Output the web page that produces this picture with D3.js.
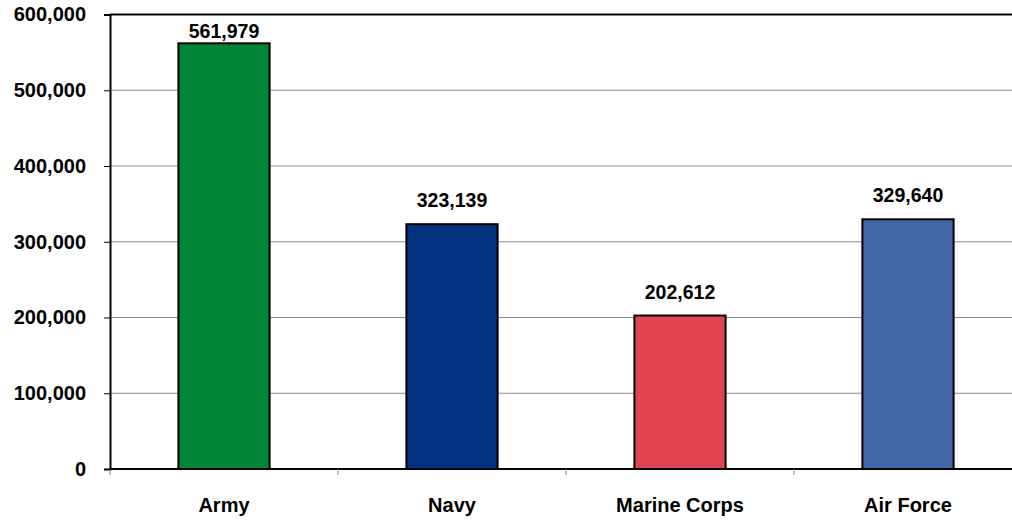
<!DOCTYPE html>
<html><head><meta charset="utf-8">
<script src="https://cdn.jsdelivr.net/npm/d3@7"></script>
<style>body{margin:0;background:#fff;overflow:hidden}svg{display:block}text{font-family:"Liberation Sans",Arial,sans-serif;font-weight:bold}</style>
</head><body>
<svg id="c" width="1012" height="521"></svg>
<script>
const categories = ["Army", "Navy", "Marine Corps", "Air Force"];
const values = [561979, 323139, 202612, 329640];
const colors = ["#038537", "#04317f", "#e04452", "#4168a6"];
const yTicks = [0, 100000, 200000, 300000, 400000, 500000, 600000];

(function () {
const svg = d3.select("#c");
const mLeft = 110, mRight = 1022, mTop = 14.5, mBottom = 469;
const x = d3.scaleBand().domain(categories).range([mLeft, mRight]).paddingInner(0).paddingOuter(0);
const y = d3.scaleLinear().domain([0, 600000]).range([mBottom, mTop]);
const fmt = d3.format(",");

// gridlines
svg.append("g").selectAll("line").data(yTicks.filter(t => t > 0 && t < 600000)).join("line")
  .attr("x1", mLeft).attr("x2", 1012).attr("y1", d => y(d)).attr("y2", d => y(d))
  .attr("stroke", "#8c8c8c").attr("stroke-width", 1);
// top border
svg.append("line").attr("x1", mLeft).attr("x2", 1012).attr("y1", y(600000)).attr("y2", y(600000))
  .attr("stroke", "#000").attr("stroke-width", 2);

// bars
svg.append("g").selectAll("rect").data(values).join("rect")
  .attr("x", (d, i) => x(categories[i]) + x.bandwidth() * 0.3)
  .attr("width", x.bandwidth() * 0.4)
  .attr("y", d => y(d)).attr("height", d => y(0) - y(d))
  .attr("fill", (d, i) => colors[i]).attr("stroke", "#000").attr("stroke-width", 2);

// value labels
svg.append("g").selectAll("text").data(values).join("text")
  .attr("x", (d, i) => x(categories[i]) + x.bandwidth() / 2)
  .attr("y", d => Math.max(y(d) - 17, y(600000) + 23))
  .attr("text-anchor", "middle").attr("font-size", 19.5).attr("fill", "#000")
  .text(d => fmt(d));

// y axis
const ya = svg.append("g").attr("transform", `translate(${mLeft},0)`)
  .call(d3.axisLeft(y).tickValues(yTicks).tickFormat(fmt).tickSize(6).tickPadding(18));
ya.select(".domain").attr("stroke", "#000").attr("stroke-width", 2);
ya.selectAll(".tick line").attr("stroke", "#000");
ya.selectAll("text").attr("font-size", 20).attr("fill", "#000").attr("font-family", "Liberation Sans, Arial, sans-serif").attr("font-weight", "bold");

// x axis
const xa = svg.append("g").attr("transform", `translate(0,${mBottom})`);
xa.append("line").attr("x1", mLeft).attr("x2", 1012).attr("y1", 0).attr("y2", 0).attr("stroke", "#000").attr("stroke-width", 2);
xa.selectAll("line.t").data(categories).join("line").attr("class", "t")
  .attr("x1", d => x(d)).attr("x2", d => x(d)).attr("y1", 0).attr("y2", 6)
  .attr("stroke", "#888").attr("stroke-width", 1);
xa.selectAll("text").data(categories).join("text")
  .attr("x", d => x(d) + x.bandwidth() / 2).attr("y", 43)
  .attr("text-anchor", "middle").attr("font-size", 20).attr("fill", "#000")
  .text(d => d);
})();
</script>
</body></html>
